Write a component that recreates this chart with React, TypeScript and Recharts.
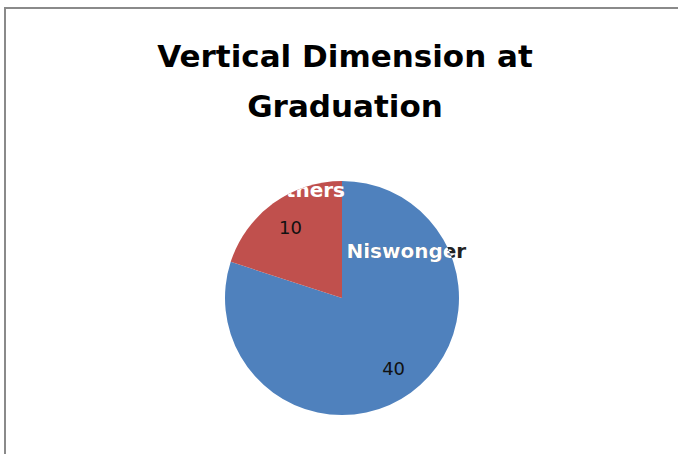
import { PieChart, Pie, Cell } from 'recharts';

// slice data
const categories = ['Niswonger', 'Others'];
const values = [40, 10];
const sliceColors = ['#4F81BD', '#C0504D'];
const titleLines = ['Vertical Dimension at', 'Graduation'];

const data = categories.map((name, i) => ({ name, value: values[i] }));

const RAD = Math.PI / 180;
const FONT = '"DejaVu Sans", "Open Sans", sans-serif';

// Excel puts the category names in odd spots, so these are offsets relative to the radius
const nameOffsets = [
  { dx: 0.55, dy: -0.4 },
  { dx: -0.3, dy: -0.92 },
];

const renderLabel = (props: any) => {
  const { cx, cy, midAngle, outerRadius, index, name, value } = props;
  const r = outerRadius * 0.75;
  const vx = cx + r * Math.cos(-midAngle * RAD);
  const vy = cy + r * Math.sin(-midAngle * RAD);
  const nx = cx + nameOffsets[index].dx * outerRadius;
  const ny = cy + nameOffsets[index].dy * outerRadius;
  const clipId = `pie-clip-${index}`;

  return (
    <g key={`lbl-${index}`}>
      <defs>
        <clipPath id={clipId}>
          <circle cx={cx} cy={cy} r={outerRadius} />
        </clipPath>
      </defs>
      {index === 0 && (
        <text x={nx} y={ny} textAnchor="middle" dominantBaseline="central"
          fill="#222" fontFamily={FONT} fontWeight="bold" fontSize={20}>
          {name}
        </text>
      )}
      <text x={nx} y={ny} textAnchor="middle" dominantBaseline="central"
        fill="#fff" fontFamily={FONT} fontWeight="bold" fontSize={20}
        clipPath={`url(#${clipId})`}>
        {name}
      </text>
      <text x={vx} y={vy} textAnchor="middle" dominantBaseline="central"
        fill="#111" fontFamily={FONT} fontSize={18}>
        {value}
      </text>
    </g>
  );
};

export default function App() {
  return (
    <div style={{ position: 'fixed', left: 0, top: 0, width: 678, height: 454, overflow: 'hidden', background: '#fff' }}>
      <div style={{
        position: 'absolute', left: 4, top: 7, width: 720, height: 500,
        borderTop: '2px solid #8a8a8a', borderLeft: '2px solid #8a8a8a', boxSizing: 'border-box',
      }} />
      <svg width={678} height={140} style={{ position: 'absolute', left: 0, top: 0 }}>
        {titleLines.map((t, i) => (
          <text key={t} x={345} y={67 + i * 50} textAnchor="middle"
            fontFamily={FONT} fontWeight="bold" fontSize={31} fill="#000">
            {t}
          </text>
        ))}
      </svg>
      <div style={{ position: 'absolute', left: 0, top: 0 }}>
        <PieChart width={678} height={454} margin={{ top: 0, right: 0, bottom: 0, left: 0 }}>
          <Pie
            data={data}
            dataKey="value"
            nameKey="name"
            cx={342}
            cy={298}
            outerRadius={117}
            startAngle={90}
            endAngle={-270}
            stroke="none"
            label={renderLabel}
            labelLine={false}
            isAnimationActive={false}
          >
            {data.map((d, i) => <Cell key={d.name} fill={sliceColors[i]} />)}
          </Pie>
        </PieChart>
      </div>
    </div>
  );
}
